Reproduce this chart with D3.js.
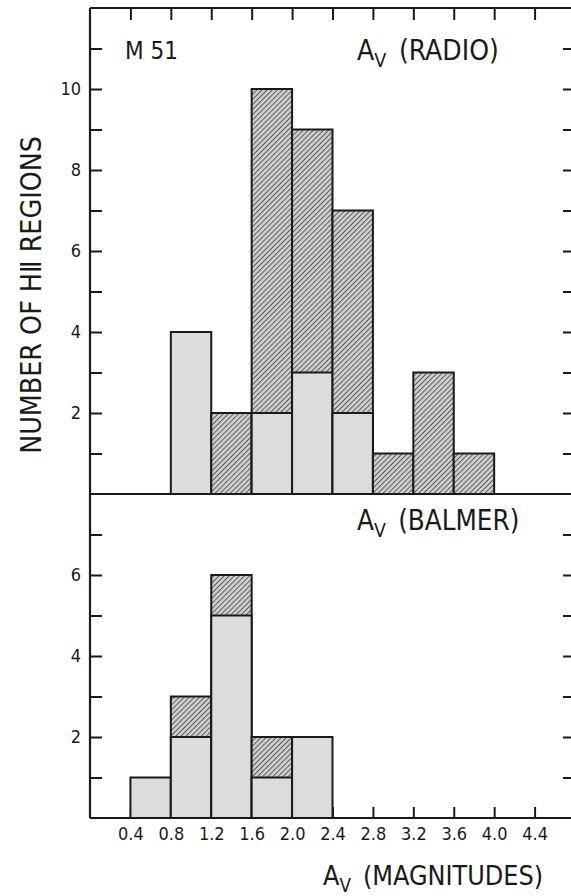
<!DOCTYPE html>
<html>
<head>
<meta charset="utf-8">
<script src="https://cdn.jsdelivr.net/npm/d3@7"></script>
<style>
  html, body { margin: 0; padding: 0; background: #fff; }
  svg { display: block; }
  text { font-family: "Liberation Sans Narrow", "DejaVu Sans Condensed", sans-serif; fill: #1a1a1a; }
</style>
</head>
<body>
<div id="chart"></div>
<script>
// Histogram bins (lower edges, width 0.4 mag)
const binWidth = 0.4;

// A_V (RADIO)
const radioBins = [0.8, 1.2, 1.6, 2.0, 2.4, 2.8, 3.2, 3.6];
const radioTotal = [4, 2, 10, 9, 7, 1, 3, 1];
const radioStippled = [4, 0, 2, 3, 2, 0, 0, 0];

// A_V (BALMER)
const balmerBins = [0.4, 0.8, 1.2, 1.6, 2.0];
const balmerTotal = [1, 3, 6, 2, 2];
const balmerStippled = [1, 2, 5, 1, 2];

// Ticks
const xTicks = [0.4, 0.8, 1.2, 1.6, 2.0, 2.4, 2.8, 3.2, 3.6, 4.0, 4.4];
const xTickLabels = ["0.4", "0.8", "1.2", "1.6", "2.0", "2.4", "2.8", "3.2", "3.6", "4.0", "4.4"];
const topYTicks = [1, 2, 3, 4, 5, 6, 7, 8, 9, 10, 11];
const botYTicks = [1, 2, 3, 4, 5, 6, 7];

const width = 571, height = 896;
const frameL = 90, frameR = 575;
const frameT = 8, frameM = 494, frameB = 818;

const svg = d3.select('#chart').append('svg')
    .attr('width', width)
    .attr('height', height);

// Patterns
const defs = svg.append('defs');
const hatch = defs.append('pattern')
    .attr('id', 'hatch')
    .attr('patternUnits', 'userSpaceOnUse')
    .attr('width', 3.6)
    .attr('height', 3.6)
    .attr('patternTransform', 'rotate(45)');
hatch.append('rect').attr('width', 3.6).attr('height', 3.6).attr('fill', '#cdcdcd');
hatch.append('line')
    .attr('x1', 0).attr('y1', 0).attr('x2', 0).attr('y2', 3.6)
    .attr('stroke', '#333').attr('stroke-width', 1.4);

const x = d3.scaleLinear().domain([0, 4.8]).range([frameL, frameR]);
const yTop = d3.scaleLinear().domain([0, 12]).range([frameM, frameT]);
const yBot = d3.scaleLinear().domain([0, 8]).range([frameB, frameM]);

const tickFmt = d => (d % 2 === 0 ? d : '');

function styleAxis(g) {
    g.select('.domain').remove();
    g.selectAll('.tick line').attr('stroke', '#1a1a1a').attr('stroke-width', 2);
    g.selectAll('.tick text').attr('fill', '#1a1a1a').style('font-size', '18px');
}

// Left axes
svg.append('g').attr('transform', `translate(${frameL},0)`)
    .call(d3.axisLeft(yTop).tickValues(topYTicks).tickSize(-12).tickPadding(9).tickFormat(tickFmt))
    .call(styleAxis);
svg.append('g').attr('transform', `translate(${frameL},0)`)
    .call(d3.axisLeft(yBot).tickValues(botYTicks).tickSize(-12).tickPadding(9).tickFormat(tickFmt))
    .call(styleAxis);

// Right axes (no labels)
svg.append('g').attr('transform', `translate(${frameR},0)`)
    .call(d3.axisRight(yTop).tickValues(topYTicks).tickSize(-12).tickFormat(''))
    .call(styleAxis);
svg.append('g').attr('transform', `translate(${frameR},0)`)
    .call(d3.axisRight(yBot).tickValues(botYTicks).tickSize(-12).tickFormat(''))
    .call(styleAxis);

// Top axis
svg.append('g').attr('transform', `translate(0,${frameT})`)
    .call(d3.axisTop(x).tickValues(xTicks).tickSize(-12).tickFormat(''))
    .call(styleAxis);

// Bottom axis
svg.append('g').attr('transform', `translate(0,${frameB})`)
    .call(d3.axisBottom(x).tickValues(xTicks).tickSize(-11).tickPadding(9)
        .tickFormat((d, i) => xTickLabels[i]))
    .call(styleAxis);

// Bars
function drawBars(bins, total, stippled, y) {
    const g = svg.append('g');
    bins.forEach((b, i) => {
        const x0 = x(b), x1 = x(b + binWidth);
        if (total[i] > stippled[i]) {
            g.append('rect')
                .attr('x', x0).attr('width', x1 - x0)
                .attr('y', y(total[i])).attr('height', y(0) - y(total[i]))
                .attr('fill', 'url(#hatch)')
                .attr('stroke', '#1a1a1a').attr('stroke-width', 2);
        }
        if (stippled[i] > 0) {
            g.append('rect')
                .attr('x', x0).attr('width', x1 - x0)
                .attr('y', y(stippled[i])).attr('height', y(0) - y(stippled[i]))
                .attr('fill', '#dcdcdc')
                .attr('stroke', '#1a1a1a').attr('stroke-width', 2);
        }
    });
}
drawBars(radioBins, radioTotal, radioStippled, yTop);
drawBars(balmerBins, balmerTotal, balmerStippled, yBot);

// Frame lines
const frame = svg.append('g').attr('stroke', '#1a1a1a').attr('stroke-width', 2.2);
frame.append('line').attr('x1', frameL).attr('x2', frameL).attr('y1', frameT).attr('y2', frameB);
[frameT, frameM, frameB].forEach(yy => {
    frame.append('line').attr('x1', frameL).attr('x2', frameR).attr('y1', yy).attr('y2', yy);
});
frame.append('line').attr('x1', frameR).attr('x2', frameR).attr('y1', frameT).attr('y2', frameB);

// Labels
function avLabel(xPos, yPos, rest, size) {
    const t = svg.append('text')
        .attr('x', xPos).attr('y', yPos)
        .style('font-size', size + 'px');
    t.append('tspan').text('A');
    t.append('tspan').attr('dy', size * 0.25).style('font-size', (size * 0.7) + 'px').text('V');
    t.append('tspan').attr('dy', -size * 0.25).attr('dx', size * 0.45).text(rest);
    return t;
}

svg.append('text')
    .attr('x', 125).attr('y', 59)
    .style('font-size', '24px')
    .text('M 51');

avLabel(357, 60, '(RADIO)', 28);
avLabel(357, 530, '(BALMER)', 27.5);
avLabel(323, 885, '(MAGNITUDES)', 26.7);

svg.append('text')
    .attr('transform', 'translate(41,295) rotate(-90)')
    .attr('text-anchor', 'middle')
    .style('font-size', '28.3px')
    .text('NUMBER OF H\u2161 REGIONS');
</script>
</body>
</html>
